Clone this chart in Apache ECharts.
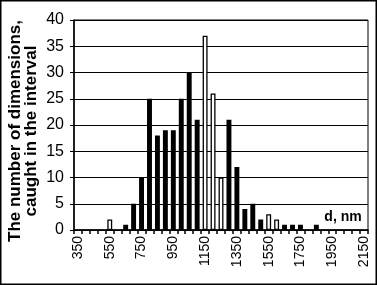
<!DOCTYPE html>
<html>
<head>
<meta charset="utf-8">
<script src="https://cdn.jsdelivr.net/npm/echarts@6/dist/echarts.min.js"></script>
<style>
html,body{margin:0;padding:0;background:#fff;}
#c{width:377px;height:285px;}
</style>
</head>
<body>
<div id="c"></div>
<script>
const categories = ['350','400','450','500','550','600','650','700','750','800','850','900','950','1000','1050','1100','1150','1200','1250','1300','1350','1400','1450','1500','1550','1600','1650','1700','1750','1800','1850','1900','1950','2000','2050','2100','2150'];
const solidCounts = [0,0,0,0,0,0,1,5,10,25,18,19,19,25,30,21,0,0,0,21,12,4,5,2,0,0,1,1,1,0,1,0,0,0,0,0,0];
const outlinedCounts = ['-','-','-','-',2,'-','-','-','-','-','-','-','-','-','-','-',37,26,10,'-','-','-','-','-',3,2,'-','-','-','-','-','-','-','-','-','-','-'];
const yTicks = {min:0, max:40, step:5};
const yTitle = ['The number of dimensions,', 'caught in the interval'];
const xUnit = 'd, nm';

const chart = echarts.init(document.getElementById('c'), null, {renderer:'canvas'});
const font = 'Liberation Sans, Arial, sans-serif';
chart.setOption({
  animation:false,
  backgroundColor:'#fff',
  grid:{left:74, right:9, top:20, bottom:55, show:true, borderColor:'#000', borderWidth:1, backgroundColor:'transparent'},
  xAxis:{
    type:'category', data:categories, boundaryGap:true,
    axisLine:{lineStyle:{color:'#000', width:1.5}},
    axisTick:{show:true, interval:0, length:4, lineStyle:{color:'#000', width:1.5}},
    axisLabel:{interval:3, rotate:90, fontSize:14, color:'#000', fontFamily:font, margin:6},
    splitLine:{show:false}
  },
  yAxis:{
    type:'value', min:yTicks.min, max:yTicks.max, interval:yTicks.step,
    axisLine:{show:true, lineStyle:{color:'#000', width:1.5}},
    axisTick:{show:true, length:4, lineStyle:{color:'#000'}},
    axisLabel:{fontSize:16, color:'#000', fontFamily:font, margin:10},
    splitLine:{show:true, lineStyle:{color:'#000', width:1.2}}
  },
  series:[
    {type:'bar', data:solidCounts, barWidth:'62%', barGap:'-100%', itemStyle:{color:'#000'}},
    {type:'bar', data:outlinedCounts, barWidth:'62%', barGap:'-100%', itemStyle:{color:'#fff', borderColor:'#000', borderWidth:1.3, borderType:'solid'}}
  ],
  graphic:[
    {type:'rect', shape:{x:0.75, y:0.75, width:375.5, height:283.5}, style:{fill:'none', stroke:'#000', lineWidth:1.5}, silent:true},
    {type:'text', x:15, y:131, rotation:Math.PI/2, style:{text:yTitle[0], font:'bold 17px '+font, fill:'#000', align:'center', verticalAlign:'middle'}},
    {type:'text', x:31, y:131, rotation:Math.PI/2, style:{text:yTitle[1], font:'bold 17px '+font, fill:'#000', align:'center', verticalAlign:'middle'}},
    {type:'text', x:343, y:217, style:{text:xUnit, font:'bold 14px '+font, fill:'#000', align:'center', verticalAlign:'middle'}}
  ]
});
</script>
</body>
</html>
